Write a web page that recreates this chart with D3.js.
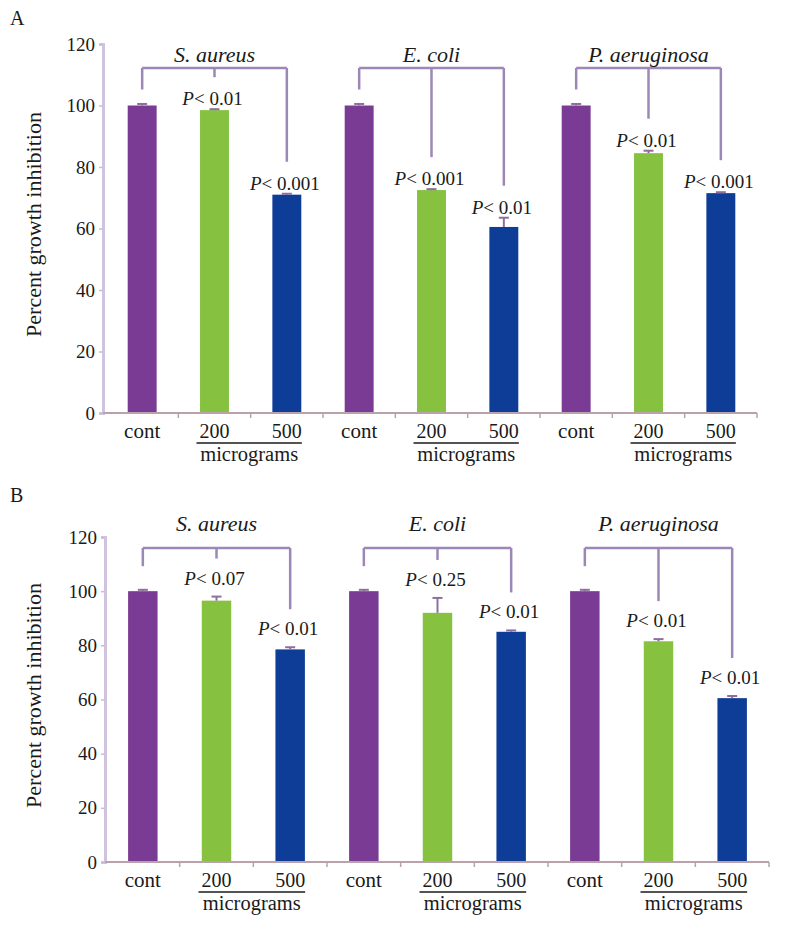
<!DOCTYPE html>
<html>
<head>
<meta charset="utf-8">
<script src="https://cdn.jsdelivr.net/npm/d3@7"></script>
<style>
  html, body { margin: 0; padding: 0; background: #ffffff; }
  svg { display: block; }
  svg text { font-family: "Liberation Serif", "Times New Roman", Times, "DejaVu Serif", serif; fill: #1a1a1a; }
</style>
</head>
<body>
<svg id="chart" width="787" height="925"></svg>
<script>
// ---------- data ----------
const species = ["S. aureus", "E. coli", "P. aeruginosa"];
const doses = ["cont", "200", "500"];
const doseUnit = "micrograms";
const yTicks = [0, 20, 40, 60, 80, 100, 120];

const valuesA = [100, 98.5, 71, 100, 72.5, 60.5, 100, 84.5, 71.5];
const errorsA = [0.5, 0.3, 0.3, 0.5, 0.3, 3, 0.5, 0.8, 0.3];
const pLabelsA = [null, "0.01", "0.001", null, "0.001", "0.01", null, "0.01", "0.001"];

const valuesB = [100, 96.5, 78.5, 100, 92, 85, 100, 81.5, 60.5];
const errorsB = [0.5, 1.5, 0.8, 0.5, 5.5, 0.5, 0.5, 0.8, 0.8];
const pLabelsB = [null, "0.07", "0.01", null, "0.25", "0.01", null, "0.01", "0.01"];

const colors = ["#7a3b94", "#86c23f", "#0e3d97"];

// ---------- layout ----------
const FONT = "'Liberation Serif', 'Times New Roman', Times, 'DejaVu Serif', serif";
const svg = d3.select("#chart");

const panels = [
  { name: "A", values: valuesA, errors: errorsA, p: pLabelsA,
    top: 44, bottom: 413, axisX: 103, left: 106, right: 757,
    letterY: 25, bracketY: 68, speciesY: 62, labelGap: 4, dropGap: 28, contDrop: 16 },
  { name: "B", values: valuesB, errors: errorsB, p: pLabelsB,
    top: 537, bottom: 862, axisX: 105, left: 106, right: 769,
    letterY: 502, bracketY: 548, speciesY: 531, labelGap: 12, dropGap: 26, contDrop: 25 }
];

panels.forEach(drawPanel);

function drawPanel(cfg) {
  const g = svg.append("g").attr("font-family", FONT);
  const n = cfg.values.length;

  const x = d3.scaleBand().domain(d3.range(n)).range([cfg.left, cfg.right])
    .paddingInner(0.6).paddingOuter(0.3);
  const y = d3.scaleLinear().domain([0, 120]).range([cfg.bottom, cfg.top]);
  const cx = i => x(i) + x.bandwidth() / 2;
  const step = x.step();

  // panel letter
  g.append("text").attr("x", 10).attr("y", cfg.letterY)
    .attr("font-size", 20).text(cfg.name);

  // y axis
  const yAxis = d3.axisLeft(y).tickValues(yTicks).tickSize(4).tickPadding(4);
  const ya = g.append("g").attr("transform", `translate(${cfg.axisX},0)`).call(yAxis)
    .attr("font-family", FONT);
  ya.select(".domain").attr("stroke", "#cfc3df").attr("stroke-width", 3);
  ya.selectAll(".tick line").attr("stroke", "#c8bcd8").attr("stroke-width", 1.5);
  ya.selectAll(".tick text").attr("font-size", 19).attr("fill", "#1a1a1a");

  // y axis title
  g.append("text")
    .attr("transform", `translate(41,${(cfg.top + cfg.bottom) / 2 - 4}) rotate(-90)`)
    .attr("text-anchor", "middle").attr("font-size", 22)
    .text("Percent growth inhibition");

  // bars
  g.selectAll("rect.bar").data(cfg.values).join("rect")
    .attr("class", "bar")
    .attr("x", (d, i) => x(i)).attr("width", x.bandwidth())
    .attr("y", d => y(d)).attr("height", d => y(0) - y(d))
    .attr("fill", (d, i) => colors[i % 3]);

  // error bars
  const eb = g.selectAll("g.err").data(cfg.values).join("g").attr("class", "err");
  eb.append("line")
    .attr("x1", (d, i) => cx(i)).attr("x2", (d, i) => cx(i))
    .attr("y1", d => y(d)).attr("y2", (d, i) => y(d + cfg.errors[i]))
    .attr("stroke", "#8e6e9e").attr("stroke-width", 2);
  eb.append("line")
    .attr("x1", (d, i) => cx(i) - 5).attr("x2", (d, i) => cx(i) + 5)
    .attr("y1", (d, i) => y(d + cfg.errors[i])).attr("y2", (d, i) => y(d + cfg.errors[i]))
    .attr("stroke", "#8e6e9e").attr("stroke-width", 2);

  // x axis line and ticks
  g.append("line").attr("x1", cfg.axisX).attr("x2", cfg.right)
    .attr("y1", y(0)).attr("y2", y(0))
    .attr("stroke", "#b9a2ab").attr("stroke-width", 2);
  g.selectAll("line.xt").data(d3.range(n)).join("line").attr("class", "xt")
    .attr("x1", i => cx(i) + step / 2).attr("x2", i => cx(i) + step / 2)
    .attr("y1", y(0)).attr("y2", y(0) + 5)
    .attr("stroke", "#b9a2ab").attr("stroke-width", 1.5);

  // x labels
  g.selectAll("text.xl").data(d3.range(n)).join("text").attr("class", "xl")
    .attr("x", i => cx(i)).attr("y", y(0) + 25)
    .attr("text-anchor", "middle")
    .attr("font-size", i => (i % 3 === 0 ? 21 : 20))
    .text(i => doses[i % 3]);

  species.forEach((sp, s) => {
    const i1 = s * 3 + 1, i2 = s * 3 + 2;
    g.append("line").attr("x1", cx(i1) - 18).attr("x2", cx(i2) + 15)
      .attr("y1", y(0) + 30).attr("y2", y(0) + 30)
      .attr("stroke", "#1a1a1a").attr("stroke-width", 1.3);
    g.append("text").attr("x", (cx(i1) - 18 + cx(i2) + 15) / 2).attr("y", y(0) + 48)
      .attr("text-anchor", "middle").attr("font-size", 20.5).text(doseUnit);
  });

  // brackets and species names
  species.forEach((sp, s) => {
    const i0 = s * 3, i1 = s * 3 + 1, i2 = s * 3 + 2;
    const bracketColor = "#9c88b6";
    g.append("line").attr("x1", cx(i0)).attr("x2", cx(i2))
      .attr("y1", cfg.bracketY).attr("y2", cfg.bracketY)
      .attr("stroke", bracketColor).attr("stroke-width", 2.5);
    g.append("line").attr("x1", cx(i0)).attr("x2", cx(i0))
      .attr("y1", cfg.bracketY).attr("y2", y(cfg.values[i0]) - cfg.contDrop)
      .attr("stroke", bracketColor).attr("stroke-width", 2.5);
    [i1, i2].forEach(i => {
      const base = y(cfg.values[i] + cfg.errors[i]) - cfg.labelGap;
      g.append("line").attr("x1", cx(i)).attr("x2", cx(i))
        .attr("y1", cfg.bracketY).attr("y2", base - cfg.dropGap)
        .attr("stroke", bracketColor).attr("stroke-width", 2.5);
      const t = g.append("text").attr("x", cx(i) - 2).attr("y", base)
        .attr("text-anchor", "middle").attr("font-size", 19);
      t.append("tspan").attr("font-style", "italic").text("P");
      t.append("tspan").text("< " + cfg.p[i]);
    });
    g.append("text").attr("x", cx(i1)).attr("y", cfg.speciesY)
      .attr("text-anchor", "middle").attr("font-size", 22)
      .attr("font-style", "italic").text(sp);
  });
}
</script>
</body>
</html>
